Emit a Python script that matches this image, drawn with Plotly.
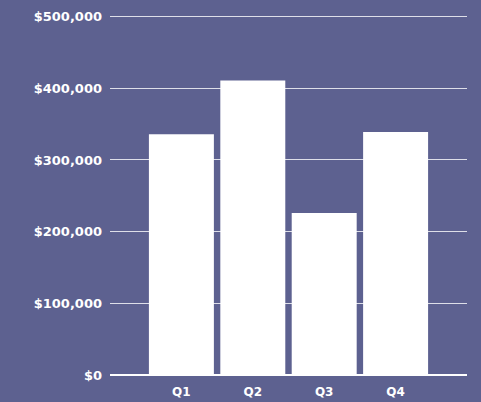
import plotly.graph_objects as go

quarters = ["Q1", "Q2", "Q3", "Q4"]
revenue = [336000, 411000, 226000, 339000]
y_ticks = [0, 100000, 200000, 300000, 400000, 500000]
y_labels = ["$0", "$100,000", "$200,000", "$300,000", "$400,000", "$500,000"]

bg = "rgb(93,97,144)"
font_family = "DejaVu Sans, Open Sans, sans-serif"

fig = go.Figure(
    go.Bar(
        x=quarters,
        y=revenue,
        marker=dict(color="white", line=dict(width=0)),
        hoverinfo="x+y",
    )
)

fig.update_layout(
    width=481,
    height=402,
    paper_bgcolor=bg,
    plot_bgcolor=bg,
    margin=dict(l=110, r=14, t=13, b=27, autoexpand=False),
    bargap=0.09,
    showlegend=False,
    font=dict(family=font_family, color="white"),
)

fig.update_xaxes(
    type="category",
    range=[-1, 4],
    showgrid=False,
    showline=False,
    ticks="",
    automargin=False,
    tickfont=dict(size=12, color="white", weight=700),
    ticklabelstandoff=8,
)

fig.update_yaxes(
    range=[0, 505000],
    tickvals=y_ticks,
    ticktext=y_labels,
    showgrid=True,
    gridcolor="rgba(255,255,255,0.8)",
    gridwidth=1,
    zeroline=True,
    zerolinecolor="white",
    zerolinewidth=2,
    showline=False,
    ticks="",
    automargin=False,
    tickfont=dict(size=13, color="white", weight=700),
    ticklabelstandoff=7,
)

fig.write_html(
    "out.html",
    config={"displayModeBar": False},
    post_script="document.body.style.margin='0';document.body.style.background='rgb(93,97,144)';",
)
